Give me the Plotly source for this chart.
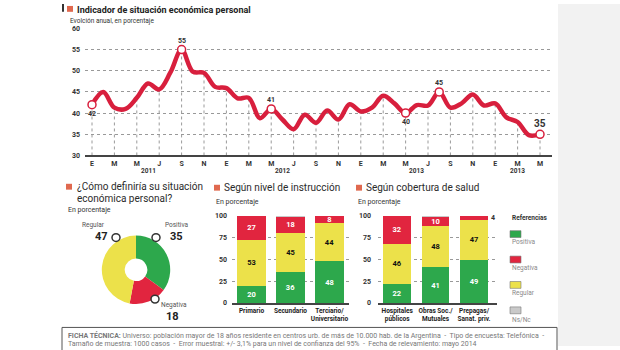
import plotly.graph_objects as go

W, H = 620, 350
def px(x): return x / W
def py(y): return 1 - y / H

FONT = "Roboto, Liberation Sans, sans-serif"

# ---------------- DATA ----------------
# monthly index from Jan 2011 (0) to May 2014 (40)
indicador = [42, 45, 41.3, 41, 43.6, 47, 45.6, 49.6, 55, 49.8, 49.5, 46.2,
             45.9, 43.5, 43.6, 38.8, 41, 38.5, 36.2, 39.6, 37.7, 40.6, 38.5, 42.1,
             40.4, 41.3, 44.1, 42.3, 40, 41.9, 41.8, 45, 41.3, 42.3, 44.4, 41.8,
             42.3, 39, 37.9, 34.8, 35]
month_ticks = ["E", "M", "M", "J", "S", "N"] * 4
year_labels = ["2011", "2012", "2013", "2013"]
year_pos = [5, 17, 29, 38]
highlight_idx = [0, 8, 16, 28, 31, 40]
highlight_lbl = ["42", "55", "41", "40", "45", "35"]
highlight_side = [-1, 1, 1, -1, 1, 1]

pie_labels = ["Positiva", "Negativa", "Regular"]
pie_values = [35, 18, 47]

instr_cats = ["Primario", "Secundario", "Terciario/<br>Universitario"]
instr_pos = [20, 36, 48]
instr_reg = [53, 45, 44]
instr_neg = [27, 18, 8]
instr_ns = [0, 1, 0]

salud_cats = ["Hospitales<br>públicos", "Obras Soc./<br>Mutuales", "Prepagas/<br>Sanat. priv."]
salud_pos = [22, 41, 49]
salud_reg = [46, 48, 47]
salud_neg = [32, 10, 4]
salud_ns = [0, 1, 0]

GREEN = "#2da84c"
RED = "#e1253f"
YELLOW = "#ece14a"
GRAY = "#c9c9c9"
LINE_RED = "#d81f3d"
ORANGE = "#e0694f"
DARK = "#333333"

fig = go.Figure()

# ---------------- LINE CHART ----------------
n = len(indicador)
xs = list(range(n))
tick_idx = list(range(0, n, 2))
dx, dy = [], []
for i in tick_idx:
    dx += [i, i, None]
    dy += [30, indicador[i], None]
fig.add_trace(go.Scatter(x=dx, y=dy, mode="lines", line=dict(color="#9a9a9a", width=1, dash="dot"),
                         hoverinfo="skip", showlegend=False, xaxis="x", yaxis="y"))
fig.add_trace(go.Scatter(x=xs, y=indicador, mode="lines",
                         line=dict(color=LINE_RED, width=4.5, shape="spline", smoothing=1.0),
                         hoverinfo="skip", showlegend=False, xaxis="x", yaxis="y"))
fig.add_trace(go.Scatter(x=highlight_idx, y=[indicador[i] for i in highlight_idx], mode="markers",
                         marker=dict(color="white", size=8, line=dict(color=LINE_RED, width=1.5)),
                         hoverinfo="skip", showlegend=False, xaxis="x", yaxis="y"))

annotations = []
for i, lbl, side in zip(highlight_idx, highlight_lbl, highlight_side):
    big = (i == n - 1)
    annotations.append(dict(x=i, y=indicador[i], xref="x", yref="y", text=f"<b>{lbl}</b>",
                            showarrow=False, yshift=(11 if big else 9) * side,
                            font=dict(size=10 if big else 7, color=DARK, family=FONT)))
for yl, p in zip(year_labels, year_pos):
    annotations.append(dict(x=p, y=py(171), xref="x", yref="paper", text=f"<b>{yl}</b>",
                            showarrow=False, font=dict(size=6.5, color=DARK, family=FONT)))

# ---------------- DONUT ----------------
fig.add_trace(go.Pie(values=pie_values, labels=pie_labels, marker=dict(colors=[GREEN, RED, YELLOW]),
                     hole=0.33, sort=False, direction="clockwise", rotation=0, textinfo="none",
                     hoverinfo="skip", showlegend=False,
                     domain=dict(x=[px(101), px(171)], y=[py(307), py(237)])))

# ---------------- BARS ----------------
def add_stack(cats, pos, reg, neg, ns, xa, ya):
    for vals, col, tcol in [(pos, GREEN, "white"), (reg, YELLOW, "#111111"), (neg, RED, "white"), (ns, GRAY, DARK)]:
        txt = [f"<b>{v}</b>" if v >= 5 and col != GRAY else "" for v in vals]
        fig.add_trace(go.Bar(x=cats, y=vals, marker=dict(color=col, line=dict(width=0)),
                             text=txt, textposition="inside", insidetextanchor="middle", textangle=0,
                             constraintext="none", textfont=dict(size=7.5, color=tcol, family=FONT),
                             hoverinfo="skip", showlegend=False, xaxis=xa, yaxis=ya))

add_stack(instr_cats, instr_pos, instr_reg, instr_neg, instr_ns, "x2", "y2")
add_stack(salud_cats, salud_pos, salud_reg, salud_neg, salud_ns, "x3", "y3")
annotations.append(dict(x=salud_cats[2], y=100 - salud_neg[2] / 2, xref="x3", yref="y3",
                        text=f"<b>{salud_neg[2]}</b>", showarrow=False, xshift=19,
                        font=dict(size=7, color=DARK, family=FONT)))

# ---------------- TEXTS ----------------
def txt(x, y, s, size, color=DARK, xanchor="left", bold=False, yanchor="middle", yshift=0):
    annotations.append(dict(x=px(x), y=py(y), xref="paper", yref="paper",
                            text=f"<b>{s}</b>" if bold else s, showarrow=False,
                            xanchor=xanchor, yanchor=yanchor, align="left", yshift=yshift,
                            font=dict(size=size, color=color, family=FONT)))

txt(75, 0, "Indicador de situación económica personal", 9, "#222", bold=True, yanchor="top", yshift=1)
txt(68, 17, "Evolción anual, en porcentaje", 6.5, "#333")
txt(75, 187, "¿Cómo definiría su situación", 10, "#2b2b2b")
txt(75, 199, "económica personal?", 10, "#2b2b2b")
txt(66, 211, "En porcentaje", 7, "#333")
txt(222, 188, "Según nivel de instrucción", 10, "#2b2b2b")
txt(214, 203, "En porcentaje", 7, "#333")
txt(364, 188, "Según cobertura de salud", 10, "#2b2b2b")
txt(356, 203, "En porcentaje", 7, "#333")

txt(93, 226, "Regular", 6.5, "#555", xanchor="center")
txt(101, 238, "47", 11, "#222", xanchor="center", bold=True)
txt(177, 226, "Positiva", 6.5, "#555", xanchor="center")
txt(176, 238, "35", 11, "#222", xanchor="center", bold=True)
txt(174, 308, "Negativa", 6.5, "#555", xanchor="center")
txt(172, 320, "18", 11, "#222", xanchor="center", bold=True)

txt(510, 219, "Referencias", 6.5, "#333", bold=True)
for lbl, ys in zip(["Positiva", "Negativa", "Regular", "Ns/Nc"], [244, 270, 296, 323]):
    txt(510, ys, lbl, 6.5, "#8a8a8a")

txt(66, 339, "<b>FICHA TÉCNICA:</b> Universo: población mayor de 18 años residente en centros urb. de más de 10.000 hab. de la Argentina  -  Tipo de encuesta: Telefónica  -",
    7, "#777")
txt(66, 348, "Tamaño de muestra: 1000 casos  -  Error muestral: +/- 3,1% para un nivel de confianza del 95%  -  Fecha de relevamiento: mayo 2014",
    7, "#777")

# ---------------- SHAPES ----------------
shapes = [
    dict(type="rect", xref="paper", yref="paper", x0=px(558), x1=1, y0=0, y1=1,
         fillcolor="#f2f2f2", line=dict(width=0), layer="below"),
    dict(type="rect", xref="paper", yref="paper", x0=px(62), x1=px(557), y0=py(356), y1=py(331),
         fillcolor="white", line=dict(color="#555", width=1), layer="below"),
    dict(type="rect", xref="paper", yref="paper", x0=px(62), x1=px(64), y0=py(8), y1=1,
         fillcolor="#333", line=dict(width=0)),
]
for x0, y0 in [(67, 2), (66, 184), (214, 185), (356, 185)]:
    shapes.append(dict(type="rect", xref="paper", yref="paper", x0=px(x0), x1=px(x0 + 6),
                       y0=py(y0 + 6), y1=py(y0), fillcolor=ORANGE, line=dict(width=0)))
for cx, cy in [(116, 239), (156, 239), (155, 302)]:
    shapes.append(dict(type="circle", xref="paper", yref="paper", x0=px(cx - 4), x1=px(cx + 4),
                       y0=py(cy + 4), y1=py(cy - 4), fillcolor="white", line=dict(color="#333", width=1.5)))
for col, ys in zip([GREEN, RED, YELLOW, GRAY], [232, 258, 284, 310]):
    shapes.append(dict(type="rect", xref="paper", yref="paper", x0=px(510), x1=px(521),
                       y0=py(ys + 7), y1=py(ys), fillcolor=col, line=dict(color="#777", width=0.6)))

tickfont = dict(size=7, color=DARK, family=FONT)
bar_y = dict(range=[0, 100], tickvals=[0, 25, 50, 75, 100], ticktext=["<b>0</b>", "<b>25</b>", "<b>50</b>", "<b>75</b>", "<b>100</b>"],
             showgrid=True, gridcolor="#999", griddash="dot", gridwidth=1, zeroline=False,
             showline=False, tickfont=tickfont, ticks="", fixedrange=True)
bar_x = dict(showgrid=False, zeroline=False, showline=True, linecolor="#444", linewidth=1.5, ticks="",
             tickangle=0, tickfont=dict(size=6.5, color="#222", family=FONT))

fig.update_layout(
    width=W, height=H, margin=dict(l=0, r=0, t=0, b=0),
    paper_bgcolor="white", plot_bgcolor="rgba(0,0,0,0)",
    barmode="stack", bargap=0.28,
    font=dict(family=FONT),
    xaxis=dict(domain=[px(85), px(552)], range=[-0.625, 41.07], tickvals=tick_idx,
               ticktext=[f"<b>{t}</b>" for t in month_ticks[:len(tick_idx)]],
               showgrid=False, zeroline=False, showline=True, linecolor="#444", linewidth=1.5,
               ticks="", tickfont=tickfont, anchor="y"),
    yaxis=dict(domain=[py(155), py(25)], range=[30, 60], tickvals=[30, 35, 40, 45, 50, 55, 60],
               ticktext=[f"<b>{v}</b>" for v in [30, 35, 40, 45, 50, 55, 60]],
               showgrid=True, gridcolor="#999", griddash="dot", gridwidth=1, zeroline=False,
               showline=False, ticks="", tickfont=tickfont, anchor="x", ticklabelstandoff=4),
    xaxis2=dict(domain=[px(232), px(349)], anchor="y2", tickvals=instr_cats,
                ticktext=[f"<b>{c}</b>" for c in instr_cats], **bar_x),
    yaxis2=dict(domain=[py(306), py(217)], anchor="x2", ticklabelstandoff=4, **bar_y),
    xaxis3=dict(domain=[px(378), px(497)], anchor="y3", tickvals=salud_cats,
                ticktext=[f"<b>{c}</b>" for c in salud_cats], **bar_x),
    yaxis3=dict(domain=[py(306), py(217)], anchor="x3", ticklabelstandoff=6, **bar_y),
    annotations=annotations, shapes=shapes,
)

fig.write_html("out.html")
